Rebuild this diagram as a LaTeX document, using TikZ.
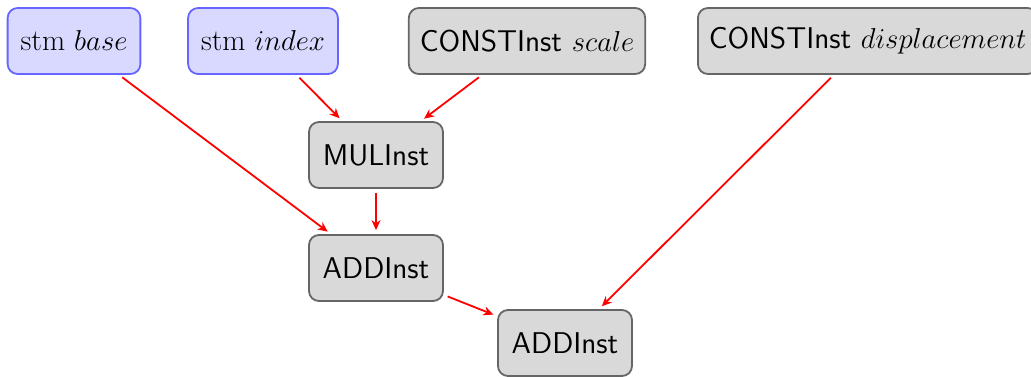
\documentclass[tikz,border=0pt]{standalone}
\usetikzlibrary{arrows.meta}
\begin{document}
\begin{tikzpicture}[x=0.5pt,y=-0.5pt,
  box/.style={draw, rounded corners=5pt, line width=0.9pt, minimum height=33pt,
    inner xsep=5.5pt, inner ysep=0pt, font=\fontsize{15}{18}\selectfont},
  stmbox/.style={box, inner xsep=6.5pt, draw=blue!60, fill=blue!15},
  instbox/.style={box, draw=black!60, fill=black!15},
  flow/.style={-{Stealth[length=5pt,width=4.5pt,inset=1.6pt]}, red, line width=0.9pt,
    shorten <=2pt, shorten >=2pt}]
  \useasboundingbox (0,0) rectangle (1031,376);
  % operand sources
  \node[stmbox] (base) at (74,41) {stm $base$};
  \node[stmbox] (index) at (263,41) {stm $index$};
  \node[instbox] (scale) at (527,41) {\sffamily CONSTInst $scale$};
  \node[instbox, anchor=west] (disp) at (697,41) {\sffamily CONSTInst $displacement$};
  % address computation
  \node[instbox, minimum width=67pt] (mul) at (376,155) {\sffamily MULInst};
  \node[instbox, minimum width=67pt] (add1) at (376,268) {\sffamily ADDInst};
  \node[instbox, minimum width=67pt] (add2) at (565,343) {\sffamily ADDInst};
  % data flow
  \draw[flow] (base) -- (add1);
  \draw[flow] (index) -- (mul);
  \draw[flow] (scale) -- (mul);
  \draw[flow] (mul) -- (add1);
  \draw[flow] (add1) -- (add2);
  \draw[flow] (disp) -- (add2);
\end{tikzpicture}
\end{document}
